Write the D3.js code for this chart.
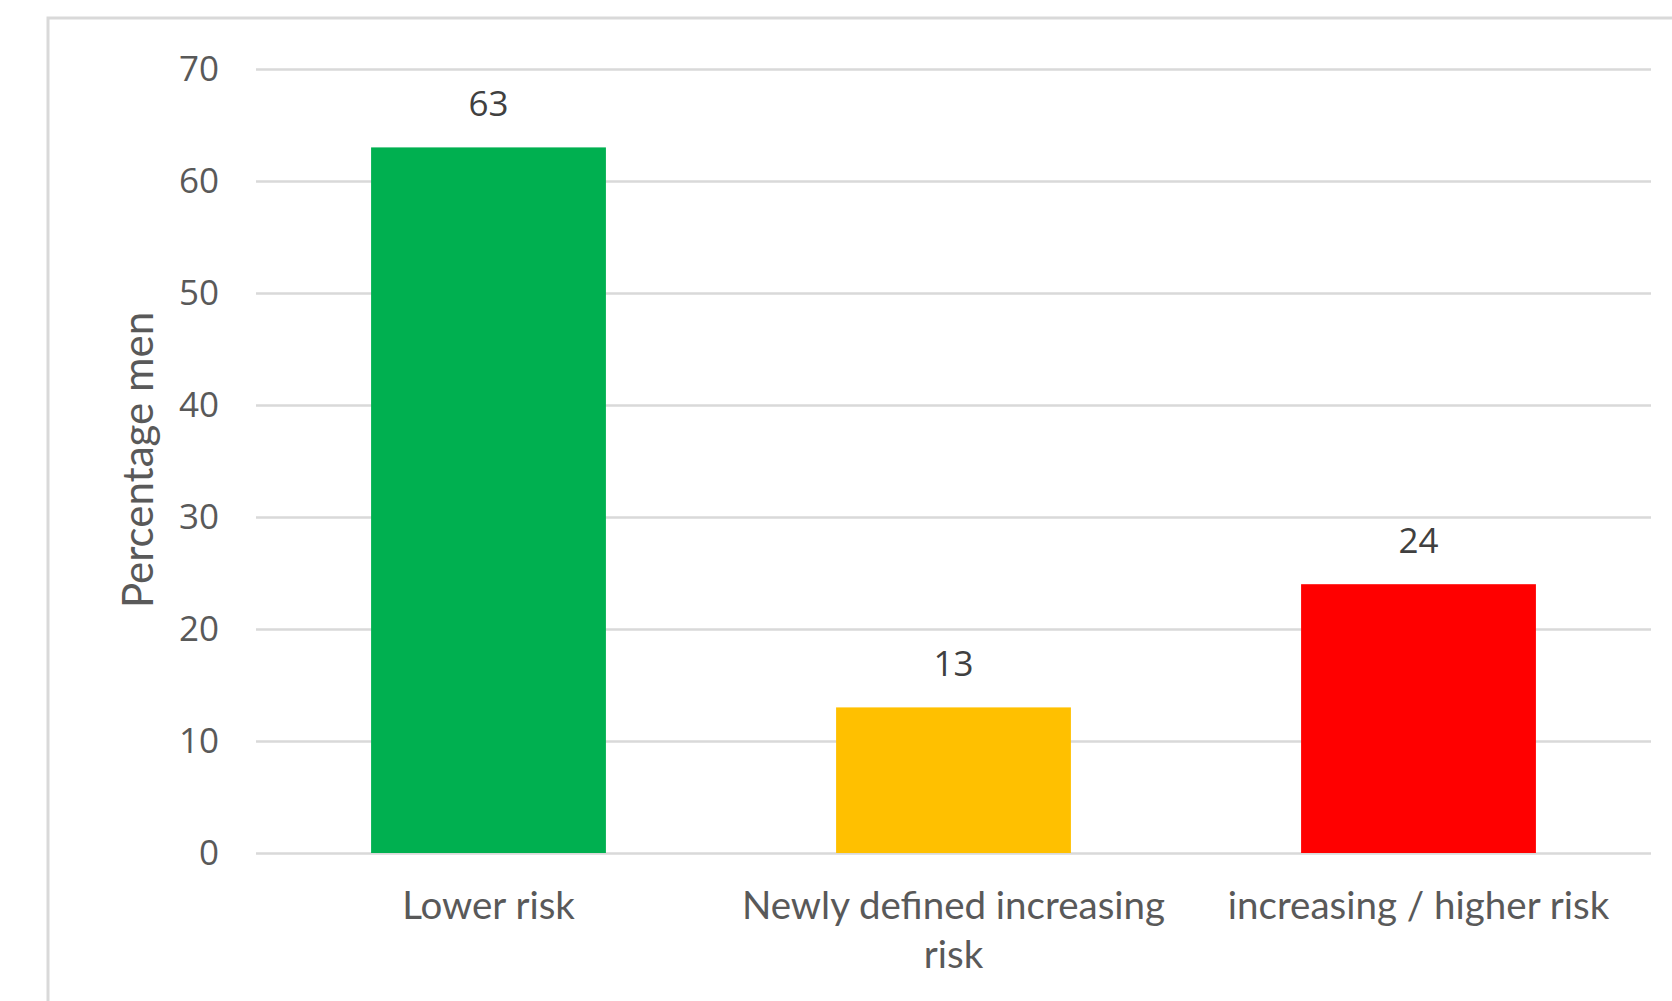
<!DOCTYPE html>
<html>
<head>
<meta charset="utf-8">
<script src="https://cdn.jsdelivr.net/npm/d3@7"></script>
<style>
  html, body { margin: 0; padding: 0; background: #fff; }
  svg { display: block; }
</style>
</head>
<body>
<svg id="chart" width="1672" height="1001"></svg>
<script>
// Share of men in each risk group
const categories = ["Lower risk", "Newly defined increasing risk", "increasing / higher risk"];
const categoryLines = [["Lower risk"], ["Newly defined increasing", "risk"], ["increasing / higher risk"]];
const values = [63, 13, 24];
const barColors = ["#00B050", "#FFC000", "#FF0000"];
const yTicks = [0, 10, 20, 30, 40, 50, 60, 70];
const yTitle = "Percentage men";

const svg = d3.select("#chart");
const W = 1672, H = 1001;
const plot = { left: 256, right: 1651, top: 69, bottom: 853 };

// Chart area frame (runs off the right and bottom edges)
svg.append("rect")
  .attr("x", 48).attr("y", 18)
  .attr("width", W).attr("height", H)
  .attr("fill", "#fff")
  .attr("stroke", "#d9d9d9").attr("stroke-width", 3);

const y = d3.scaleLinear().domain([0, 70]).range([plot.bottom, plot.top]);
const x = d3.scaleBand().domain(categories)
  .range([plot.left, plot.right])
  .paddingInner(0.495).paddingOuter(0.2475);

// Horizontal gridlines and tick labels
const yAxis = d3.axisLeft(y).tickValues(yTicks)
  .tickSize(-(plot.right - plot.left)).tickPadding(37);
const gy = svg.append("g").attr("transform", `translate(${plot.left},0)`).call(yAxis);
gy.select(".domain").remove();
gy.selectAll(".tick line").attr("stroke", "#d9d9d9").attr("stroke-width", 2.5);
gy.selectAll(".tick text")
  .attr("fill", "#595959")
  .style("font-family", "'Open Sans', sans-serif")
  .style("font-size", "35px");

// Bars
svg.append("g").selectAll("rect").data(values).join("rect")
  .attr("x", (d, i) => x(categories[i]))
  .attr("y", d => y(d))
  .attr("width", x.bandwidth())
  .attr("height", d => y(0) - y(d))
  .attr("fill", (d, i) => barColors[i]);

// Value labels above bars
svg.append("g").selectAll("text").data(values).join("text")
  .attr("x", (d, i) => x(categories[i]) + x.bandwidth() / 2)
  .attr("y", d => y(d) - 31)
  .attr("text-anchor", "middle")
  .attr("fill", "#404040")
  .style("font-family", "'Open Sans', sans-serif")
  .style("font-size", "35px")
  .text(d => d);

// Category labels
const xl = svg.append("g").selectAll("text").data(categories).join("text")
  .attr("x", d => x(d) + x.bandwidth() / 2)
  .attr("y", 919)
  .attr("text-anchor", "middle")
  .attr("fill", "#595959")
  .style("font-family", "Lato, sans-serif")
  .style("font-size", "38.5px");
xl.each(function(d, i) {
  const t = d3.select(this);
  categoryLines[i].forEach((line, j) => {
    t.append("tspan")
      .attr("x", x(d) + x.bandwidth() / 2)
      .attr("dy", j === 0 ? 0 : 49)
      .text(line);
  });
});

// Y axis title
svg.append("text")
  .attr("transform", `translate(153, 460) rotate(-90)`)
  .attr("text-anchor", "middle")
  .attr("fill", "#595959")
  .style("font-family", "Lato, sans-serif")
  .style("font-size", "42px")
  .text(yTitle);
</script>
</body>
</html>
